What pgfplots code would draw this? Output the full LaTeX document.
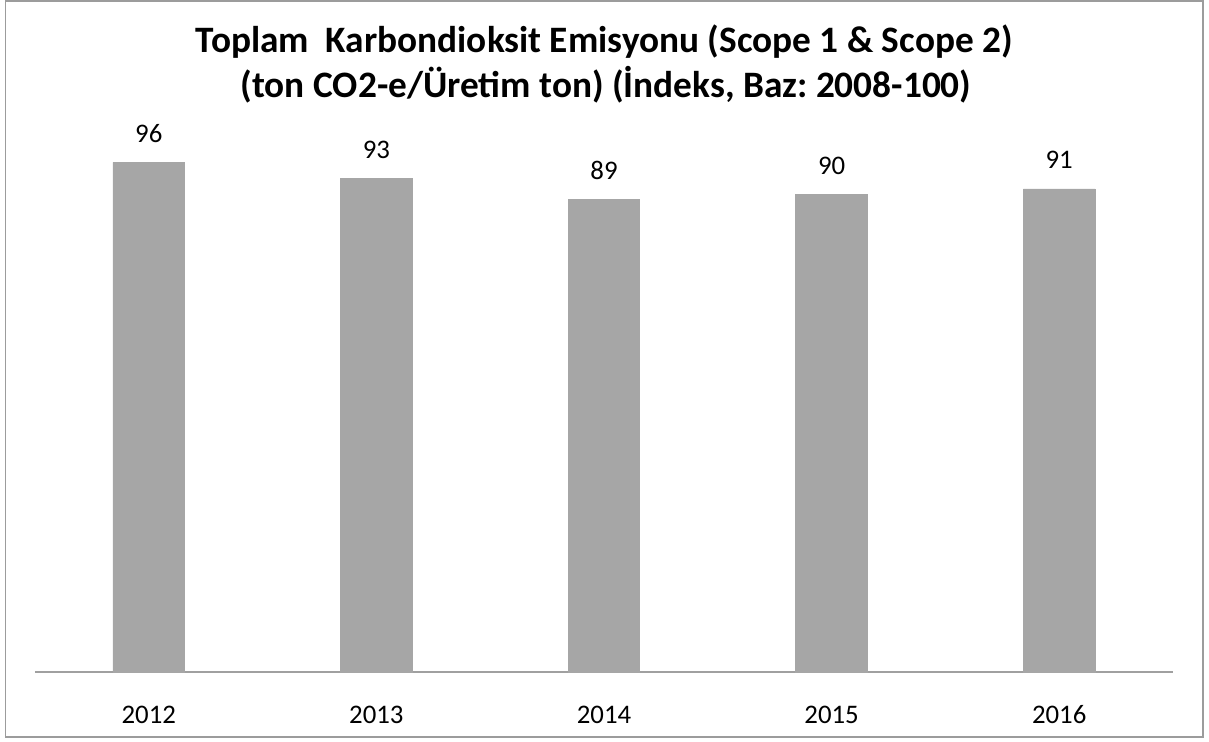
\documentclass[border=0pt]{standalone}
\usepackage{pgfplots}
\pgfplotsset{compat=1.18}
\usepackage{fontspec}
\setmainfont{Carlito}
\frenchspacing
\definecolor{bargray}{HTML}{A6A6A6}
\definecolor{framegray}{HTML}{9C9C9C}
\definecolor{axisgray}{HTML}{A0A0A0}
\begin{document}
\begin{tikzpicture}
\useasboundingbox (-17.5pt,-35pt) rectangle (587pt,336pt);
\begin{axis}[
  at={(0pt,0pt)}, anchor=south west,
  scale only axis,
  width=569pt, height=318.5pt,
  xmin=-0.5, xmax=4.5, ymin=0, ymax=120,
  axis x line*=bottom, axis y line=none,
  x axis line style={draw=axisgray, line width=0.6pt, -},
  xtick=data,
  xticklabels={2012,2013,2014,2015,2016},
  xtick style={draw=none},
  xticklabel style={anchor=base, inner sep=0pt, yshift=-21.5pt, font=\fontsize{13.4pt}{15pt}\selectfont},
  /pgf/number format/assume math mode=true,
  ybar, bar width=35.85pt,
  nodes near coords,
  every node near coord/.append style={anchor=base, inner sep=0pt, yshift=10pt, font=\fontsize{13.4pt}{15pt}\selectfont, black},
  clip=false,
]
\addplot[fill=bargray, draw=bargray] coordinates {(0,96) (1,93) (2,89) (3,90) (4,91)};
\end{axis}
\draw[framegray, line width=0.75pt] (-14.75pt,-32.5pt) rectangle (584pt,335.5pt);
\node[anchor=base, inner sep=0pt, font=\bfseries\fontsize{18.65pt}{22pt}\selectfont] at (284.6pt,309.8pt) {Toplam\ \ Karbondioksit Emisyonu (Scope 1 \& Scope 2)};
\node[anchor=base, inner sep=0pt, font=\bfseries\fontsize{18.65pt}{22pt}\selectfont] at (285.5pt,287.2pt) {(ton CO2-e/Üretim ton) (İndeks, Baz: 2008-100)};
\end{tikzpicture}
\end{document}
